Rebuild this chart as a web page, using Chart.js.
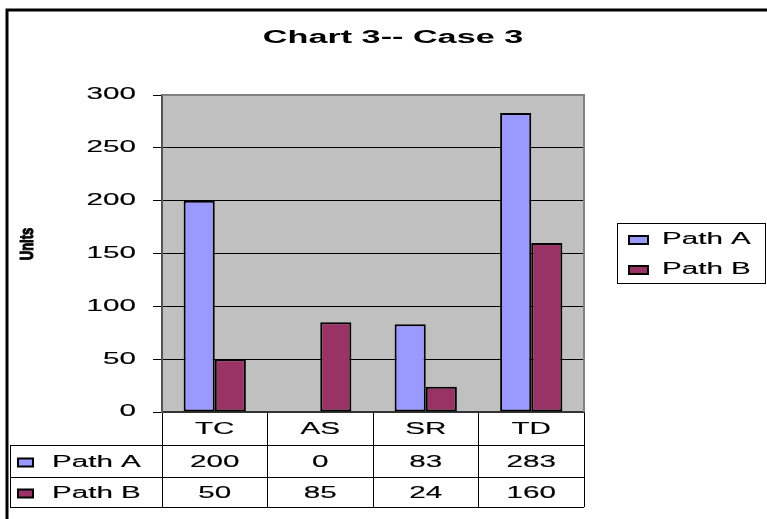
<!DOCTYPE html>
<html>
<head>
<meta charset="utf-8">
<script src="https://cdn.jsdelivr.net/npm/chart.js@4"></script>
<style>
  body { margin: 0; background: #fff; }
  canvas { display: block; }
</style>
</head>
<body>
<canvas id="myChart" width="767" height="519"></canvas>
<script>
const categories = ["TC", "AS", "SR", "TD"];
const seriesNames = ["Path A", "Path B"];
const pathA = [200, 0, 83, 283];
const pathB = [50, 85, 24, 160];
const yTicks = [0, 50, 100, 150, 200, 250, 300];
const barColors = ["#9999FF", "#993366"];

const FONT = '"Liberation Sans", Arial, sans-serif';
const SX = 1.85; // the picture is stretched sideways, so the text is too

// draw text stretched horizontally
function sText(ctx, str, x, y, align, font, sx, heavy) {
  ctx.save();
  ctx.font = font;
  ctx.textBaseline = "middle";
  ctx.textAlign = "left";
  let w = ctx.measureText(str).width * sx;
  let left = x;
  if (align == "center") left = x - w / 2;
  if (align == "right") left = x - w;
  ctx.translate(left, y);
  ctx.scale(sx, 1);
  ctx.fillStyle = "#000";
  ctx.fillText(str, 0, 0);
  if (heavy) {
    ctx.strokeStyle = "#000";
    ctx.lineWidth = heavy;
    ctx.strokeText(str, 0, 0);
  }
  ctx.restore();
}

function swatch(ctx, x, y, w, h, color) {
  ctx.save();
  ctx.fillStyle = color;
  ctx.fillRect(x, y - h / 2, w, h);
  ctx.strokeStyle = "#000";
  ctx.lineWidth = 2;
  ctx.strokeRect(x, y - h / 2, w, h);
  ctx.restore();
}

const excelLook = {
  id: "excelLook",
  beforeDraw(chart) {
    let ctx = chart.ctx;
    let a = chart.chartArea;
    ctx.save();
    ctx.fillStyle = "#C0C0C0";
    ctx.fillRect(a.left, a.top, a.right - a.left, a.bottom - a.top);
    ctx.restore();
  },
  afterDraw(chart) {
    let ctx = chart.ctx;
    let a = chart.chartArea;
    let xs = chart.scales.x;
    let ys = chart.scales.y;
    let f = "16px " + FONT;
    let hv = 0.15;

    // plot area border (top + right)
    ctx.save();
    ctx.strokeStyle = "#808080";
    ctx.lineWidth = 2;
    ctx.beginPath();
    ctx.moveTo(a.left, a.top);
    ctx.lineTo(a.right, a.top);
    ctx.lineTo(a.right, a.bottom);
    ctx.stroke();
    ctx.restore();

    // title
    sText(ctx, "Chart 3-- Case 3", 393, 38.5, "center", "bold 18px " + FONT, 1.9);

    // y axis title
    ctx.save();
    ctx.translate(28, 244);
    ctx.rotate(-Math.PI / 2);
    ctx.scale(1, 1.35);
    ctx.font = "bold 13px " + FONT;
    ctx.textAlign = "center";
    ctx.textBaseline = "middle";
    ctx.fillStyle = "#000";
    ctx.fillText("Units", 0, 0);
    ctx.strokeStyle = "#000";
    ctx.lineWidth = 0.8;
    ctx.strokeText("Units", 0, 0);
    ctx.restore();

    // y tick labels
    ys.ticks.forEach((t) => {
      sText(ctx, String(t.value), 136, ys.getPixelForValue(t.value), "right", f, SX, hv);
    });

    // data table
    let rowY = [a.bottom, 445, 477, 507];
    let tLeft = 10;
    ctx.save();
    ctx.strokeStyle = "#000";
    ctx.lineWidth = 1;
    ctx.beginPath();
    for (let i = 1; i < rowY.length; i++) {
      ctx.moveTo(tLeft, rowY[i] + 0.5);
      ctx.lineTo(a.right, rowY[i] + 0.5);
    }
    ctx.moveTo(tLeft + 0.5, rowY[1]);
    ctx.lineTo(tLeft + 0.5, rowY[3]);
    ctx.stroke();
    ctx.restore();

    let hy = (rowY[0] + rowY[1]) / 2 + 1;
    categories.forEach((c, i) => {
      sText(ctx, c, xs.getPixelForValue(i), hy, "center", f, SX, hv);
    });

    let rows = [pathA, pathB];
    rows.forEach((vals, r) => {
      let cy = (rowY[r + 1] + rowY[r + 2]) / 2 + 1.5;
      swatch(ctx, 18, cy, 15, 8, barColors[r]);
      sText(ctx, seriesNames[r], 52, cy, "left", f, SX, hv);
      vals.forEach((v, i) => {
        sText(ctx, String(v), xs.getPixelForValue(i), cy, "center", f, SX, hv);
      });
    });

    // legend
    ctx.save();
    ctx.strokeStyle = "#000";
    ctx.lineWidth = 1;
    ctx.strokeRect(617.5, 223.5, 148, 60);
    ctx.restore();
    seriesNames.forEach((n, r) => {
      let ly = 240 + r * 30;
      swatch(ctx, 629, ly, 19, 8, barColors[r]);
      sText(ctx, n, 662, ly, "left", f, SX, hv);
    });

    // outer chart border
    ctx.save();
    ctx.strokeStyle = "#000";
    ctx.lineWidth = 3;
    ctx.beginPath();
    ctx.moveTo(7, 519);
    ctx.lineTo(7, 10);
    ctx.lineTo(767, 10);
    ctx.stroke();
    ctx.restore();
  },
};

new Chart("myChart", {
  type: "bar",
  data: {
    labels: categories,
    datasets: [
      {
        label: seriesNames[0],
        data: pathA,
        backgroundColor: barColors[0],
        borderColor: "#000",
        borderWidth: 2,
        borderSkipped: false,
        categoryPercentage: 0.59,
        barPercentage: 1.0,
      },
      {
        label: seriesNames[1],
        data: pathB,
        backgroundColor: barColors[1],
        borderColor: "#000",
        borderWidth: 2,
        borderSkipped: false,
        categoryPercentage: 0.59,
        barPercentage: 1.0,
      },
    ],
  },
  options: {
    responsive: false,
    animation: false,
    layout: { padding: { left: 62, right: 183, top: 95, bottom: 0 } },
    plugins: {
      legend: { display: false },
      title: { display: false },
      tooltip: { enabled: false },
    },
    scales: {
      x: {
        afterFit: (s) => { s.height = 107; },
        ticks: { display: false },
        grid: {
          offset: true,
          drawOnChartArea: false,
          drawTicks: true,
          tickLength: 95,
          color: "#000",
          tickColor: "#000",
          lineWidth: 1,
        },
        border: { display: true, color: "#333", width: 2 },
      },
      y: {
        min: yTicks[0],
        max: yTicks[yTicks.length - 1],
        afterFit: (s) => { s.width = 100; },
        afterBuildTicks: (s) => { s.ticks = yTicks.map((v) => ({ value: v })); },
        ticks: { display: false },
        grid: {
          color: (c) => (c.tick && c.tick.value == 300 ? "#808080" : "#000"),
          tickColor: "#000",
          tickLength: 9,
          lineWidth: 1,
        },
        border: { display: true, color: "#555", width: 2 },
      },
    },
  },
  plugins: [excelLook],
});
</script>
</body>
</html>
